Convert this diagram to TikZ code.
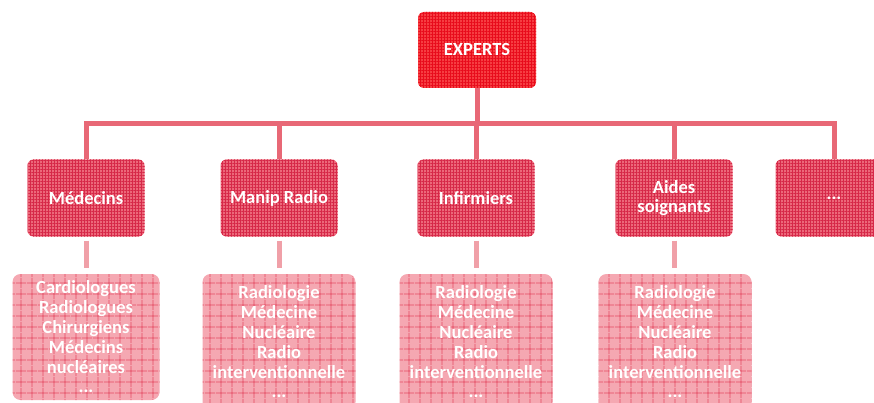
\documentclass[tikz,border=0pt]{standalone}
\usepackage{fontspec}
\setmainfont{Carlito}
\usetikzlibrary{patterns.meta}
\definecolor{topred}{RGB}{246,62,66}
\definecolor{topline}{RGB}{232,12,28}
\definecolor{midred}{RGB}{236,104,122}
\definecolor{midline}{RGB}{214,40,72}
\definecolor{lowred}{RGB}{245,168,178}
\definecolor{lowline}{RGB}{228,72,96}
\definecolor{barred}{RGB}{232,104,118}
\definecolor{stemred}{RGB}{240,160,168}
\tikzset{
	box/.style={rounded corners=6pt, text=white, align=center,
		font=\fontsize{18.5}{19.8}\selectfont\bfseries},
	topbox/.style={box, minimum width=118pt, minimum height=76pt,
		preaction={fill=topred}, pattern={Hatch[distance=3pt,line width=0.9pt]}, pattern color=topline},
	midbox/.style={box, minimum width=117pt, minimum height=77pt,
		preaction={fill=midred}, pattern={Hatch[distance=3pt,line width=0.9pt]}, pattern color=midline},
	listbox/.style={box, minimum width=153pt, minimum height=136pt, rounded corners=8pt,
		preaction={fill=lowred}, pattern={Hatch[distance=10.5pt,line width=0.7pt]}, pattern color=lowline},
	bar/.style={draw=barred, line width=5pt},
	stem/.style={draw=stemred, line width=5pt, shorten <=4pt, shorten >=6pt}
}
\begin{document}
\begin{tikzpicture}[x=1pt,y=-1pt]
	\useasboundingbox (0,0) rectangle (874,403);
	\clip (0,0) rectangle (874,403);
	% top level
	\node[topbox] (experts) at (477,50) {EXPERTS};
	% second level
	\node[midbox] (medecins) at (86,198) {Médecins};
	\node[midbox] (manip) at (279,198) {Manip Radio};
	\node[midbox] (infirmiers) at (476,198) {Infirmiers};
	\node[midbox] (aides) at (674,198) {Aides\\soignants};
	\node[midbox] (autres) at (834,198) {...};
	% lists
	\node[listbox, minimum width=147pt, minimum height=126pt] (listmed) at (86,337)
		{Cardiologues\\Radiologues\\Chirurgiens\\Médecins\\nucléaires\\...};
	\node[listbox] (listmanip) at (279,342)
		{Radiologie\\Médecine\\Nucléaire\\Radio\\interventionnelle\\...};
	\node[listbox] (listinf) at (476,342)
		{Radiologie\\Médecine\\Nucléaire\\Radio\\interventionnelle\\...};
	\node[listbox] (listaides) at (675,342)
		{Radiologie\\Médecine\\Nucléaire\\Radio\\interventionnelle\\...};
	% connectors
	\foreach \n in {medecins,manip,infirmiers,aides,autres}
		\draw[bar] (experts.south) -- ++(0,35) -| (\n.north);
	\foreach \a/\b in {medecins/listmed,manip/listmanip,infirmiers/listinf,aides/listaides}
		\draw[stem] (\a.south) -- (\a.south |- \b.north);
\end{tikzpicture}
\end{document}
